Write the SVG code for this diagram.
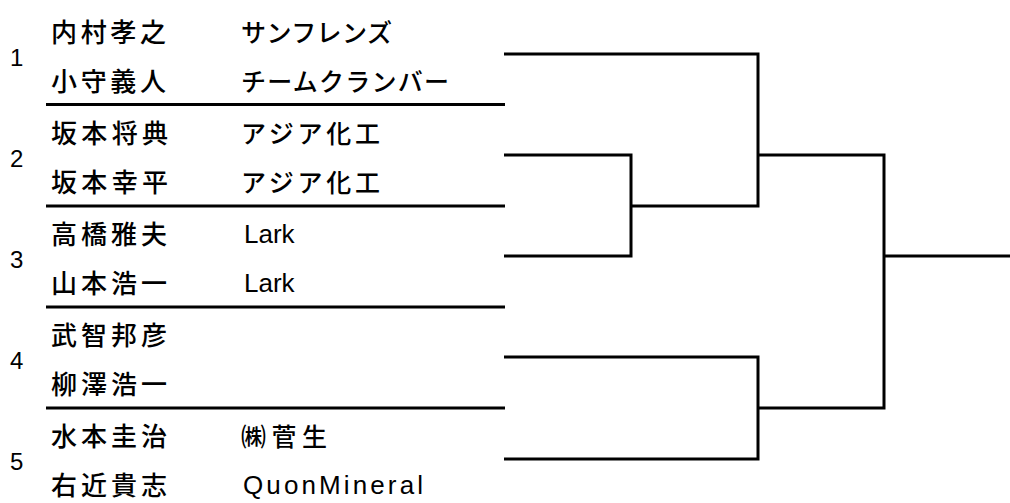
<svg xmlns="http://www.w3.org/2000/svg" width="1010" height="503" viewBox="0 0 1010 503">
<style>
.bg{fill:#fff}
.num{font-family:"Liberation Sans","Noto Sans CJK JP",sans-serif;font-size:24px;fill:#000}
.nm{font-family:"Noto Sans CJK JP","Liberation Sans",sans-serif;font-size:26px;font-weight:500;fill:#000}
.tm{font-family:"Noto Sans CJK JP","Liberation Sans",sans-serif;font-size:25px;font-weight:500;fill:#000}
.lat{font-family:"Liberation Sans","Noto Sans CJK JP",sans-serif;font-size:26px;fill:#000}
.ln{stroke:#000;stroke-width:3;fill:none}
</style>
<rect class="bg" x="0" y="0" width="1010" height="503"/>
<g id="entry1">
<text class="num" x="10" y="66">1</text>
<text class="nm" x="51" y="42" textLength="115" lengthAdjust="spacing">内村孝之</text>
<text class="nm" x="51" y="91" textLength="115" lengthAdjust="spacing">小守義人</text>
<text class="tm" x="241" y="42" textLength="151" lengthAdjust="spacing">サンフレンズ</text>
<text class="tm" x="241" y="91" textLength="208" lengthAdjust="spacing">チームクランバー</text>
</g>
<g id="entry2">
<text class="num" x="10" y="167">2</text>
<text class="nm" x="51" y="143" textLength="117" lengthAdjust="spacing">坂本将典</text>
<text class="nm" x="51" y="192" textLength="117" lengthAdjust="spacing">坂本幸平</text>
<text class="tm" x="241" y="143" textLength="139" lengthAdjust="spacing">アジア化工</text>
<text class="tm" x="241" y="192" textLength="139" lengthAdjust="spacing">アジア化工</text>
</g>
<g id="entry3">
<text class="num" x="10" y="268">3</text>
<text class="nm" x="51" y="244" textLength="116" lengthAdjust="spacing">高橋雅夫</text>
<text class="nm" x="51" y="293" textLength="116" lengthAdjust="spacing">山本浩一</text>
<text class="lat" x="244" y="243">Lark</text>
<text class="lat" x="244" y="292">Lark</text>
</g>
<g id="entry4">
<text class="num" x="10" y="369">4</text>
<text class="nm" x="51" y="345" textLength="116" lengthAdjust="spacing">武智邦彦</text>
<text class="nm" x="51" y="394" textLength="116" lengthAdjust="spacing">柳澤浩一</text>
</g>
<g id="entry5">
<text class="num" x="10" y="470">5</text>
<text class="nm" x="51" y="446" textLength="116" lengthAdjust="spacing">水本圭治</text>
<text class="nm" x="51" y="495" textLength="116" lengthAdjust="spacing">右近貴志</text>
<text class="tm" x="241" y="446" textLength="86" lengthAdjust="spacing">㈱菅生</text>
<text class="lat" x="243" y="494" font-size="28" textLength="180" lengthAdjust="spacing">QuonMineral</text>
</g>
<g id="connectors">
<line class="ln" x1="46" y1="104.5" x2="505" y2="104.5"/>
<line class="ln" x1="46" y1="206" x2="505" y2="206"/>
<line class="ln" x1="46" y1="307" x2="505" y2="307"/>
<line class="ln" x1="46" y1="408" x2="505" y2="408"/>
<polyline class="ln" points="504,54 758,54 758,206 630,206"/>
<polyline class="ln" points="504,155 631,155 631,256 504,256"/>
<polyline class="ln" points="758,155 884,155 884,408 758,408"/>
<line class="ln" x1="884" y1="256" x2="1010" y2="256"/>
<polyline class="ln" points="504,357 758,357 758,459 504,459"/>
</g>
</svg>
